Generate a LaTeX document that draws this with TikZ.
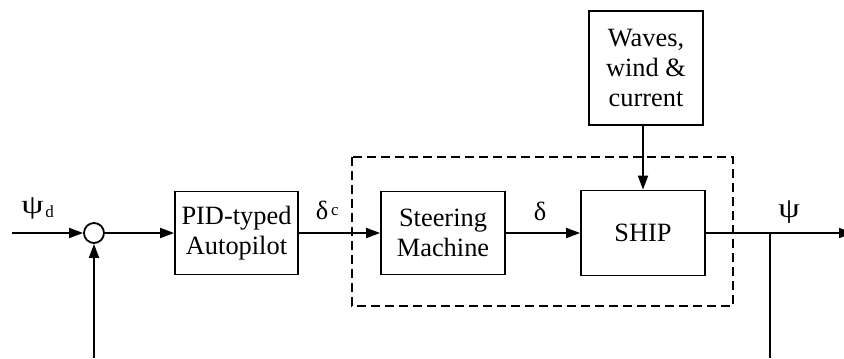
\documentclass[tikz,border=0pt]{standalone}
\usepackage{fontspec}
\setmainfont{Liberation Serif}
\usetikzlibrary{arrows.meta}
\begin{document}
\begin{tikzpicture}[x=0.5pt,y=-0.5pt,
  line width=0.9pt,
  font=\fontsize{13.2}{15}\selectfont,
  blk/.style={draw,rectangle,align=center,inner sep=0pt},
  arr/.style={-{Triangle[length=7pt,width=5pt]}},
  lbl/.style={inner sep=0pt},
  sub/.style={font=\fontsize{8.5}{8.5}\selectfont}]
\useasboundingbox (0,0) rectangle (844,358);
% dashed region
\draw[dash pattern=on 4.5pt off 2.5pt] (352,157) rectangle (733,306);
% nodes
\node[draw,circle,inner sep=0pt,minimum size=10pt] (sum) at (94,233) {};
\node[blk,minimum width=61.5pt,minimum height=41.5pt] (pid) at (236.5,233) {PID-typed\\Autopilot};
\node[blk,minimum width=62pt,minimum height=41.5pt] (steer) at (443,233) {Steering\\Machine};
\node[blk,minimum width=62pt,minimum height=42.5pt] (ship) at (643,233) {SHIP};
\node[blk,minimum width=57pt,minimum height=57pt] (waves) at (646,68) {Waves,\\wind \&\\current};
% coordinates
\coordinate (in) at (12,233);
\coordinate (out) at (853,233);
\coordinate (tap) at (770,233);
\coordinate (fbR) at (770,358);
\coordinate (fbL) at (94,358);
\coordinate (wv) at (waves.south -| ship.north);
% connectors
\draw[arr] (in) -- (sum);
\draw[arr] (sum) -- (pid);
\draw[arr] (pid) -- (steer);
\draw[arr] (steer) -- (ship);
\draw[arr] (ship) -- (out);
\draw[arr] (wv) -- (ship);
\draw (tap) -- (fbR);
\draw[arr] (fbL) -- (sum);
% labels
\node[lbl] (psid) at (32.5,208) {\scalebox{1.35}[1]{ψ}};
\node[lbl,sub] (psidsub) at (49.5,212) {d};
\node[lbl] (dc) at (322,210) {δ};
\node[lbl,sub] (dcsub) at (335,212) {c};
\node[lbl] (d) at (540,211) {δ};
\node[lbl] (psi) at (789,212) {\scalebox{1.3}[1.05]{ψ}};
\end{tikzpicture}
\end{document}
